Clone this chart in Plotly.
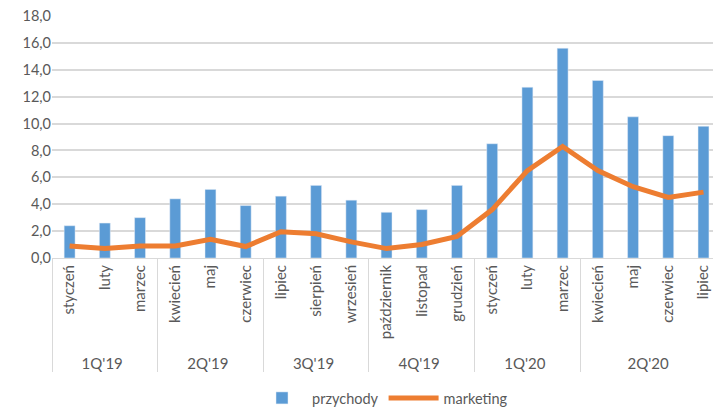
import plotly.graph_objects as go

quarters = ["1Q'19"]*3 + ["2Q'19"]*3 + ["3Q'19"]*3 + ["4Q'19"]*3 + ["1Q'20"]*3 + ["2Q'20"]*4
months = ["styczeń", "luty", "marzec", "kwiecień", "maj", "czerwiec",
          "lipiec", "sierpień", "wrzesień", "październik", "listopad", "grudzień",
          "styczeń", "luty", "marzec", "kwiecień", "maj", "czerwiec", "lipiec"]
przychody = [2.4, 2.6, 3.0, 4.4, 5.1, 3.9, 4.6, 5.4, 4.3, 3.4, 3.6, 5.4,
             8.5, 12.7, 15.6, 13.2, 10.5, 9.1, 9.8]
marketing = [0.9, 0.7, 0.9, 0.9, 1.4, 0.85, 1.95, 1.8, 1.2, 0.7, 1.0, 1.6,
             3.6, 6.5, 8.3, 6.5, 5.3, 4.5, 4.9]

x = [quarters, months]
font = "Lato"
grey = "#595959"

fig = go.Figure()
fig.add_trace(go.Bar(x=x, y=przychody, name="przychody", marker_color="#5B9BD5",
                     width=0.31))
fig.add_trace(go.Scatter(x=x, y=marketing, name="marketing", mode="lines",
                         line=dict(color="#ED7D31", width=5)))

fig.update_layout(
    width=713, height=414,
    margin=dict(l=52, r=0, t=16, b=156),
    plot_bgcolor="white", paper_bgcolor="white",
    separators=", ",
    font=dict(family=font, size=15, color=grey),
    showlegend=True,
    legend=dict(orientation="h", x=0.5, xanchor="center", y=-0.6446, yanchor="bottom",
                font=dict(size=14.5, color=grey), traceorder="normal", itemwidth=50,
                borderwidth=0),
    xaxis=dict(type="multicategory", tickangle=-90, range=[-0.5, 18.27],
               showdividers=True, dividercolor="#d9d9d9", dividerwidth=1,
               showline=True, linecolor="#d9d9d9", ticks="", automargin=False,
               tickfont=dict(size=15, color=grey)),
    yaxis=dict(range=[0, 18], dtick=2, tickformat=".1f", showgrid=True,
               gridcolor="#d9d9d9", gridwidth=1.5, zeroline=False, automargin=False,
               tickfont=dict(size=14.5, color=grey)),
)
fig.write_html("out.html", config={"displayModeBar": False},
               post_script="document.body.style.margin='0';")
